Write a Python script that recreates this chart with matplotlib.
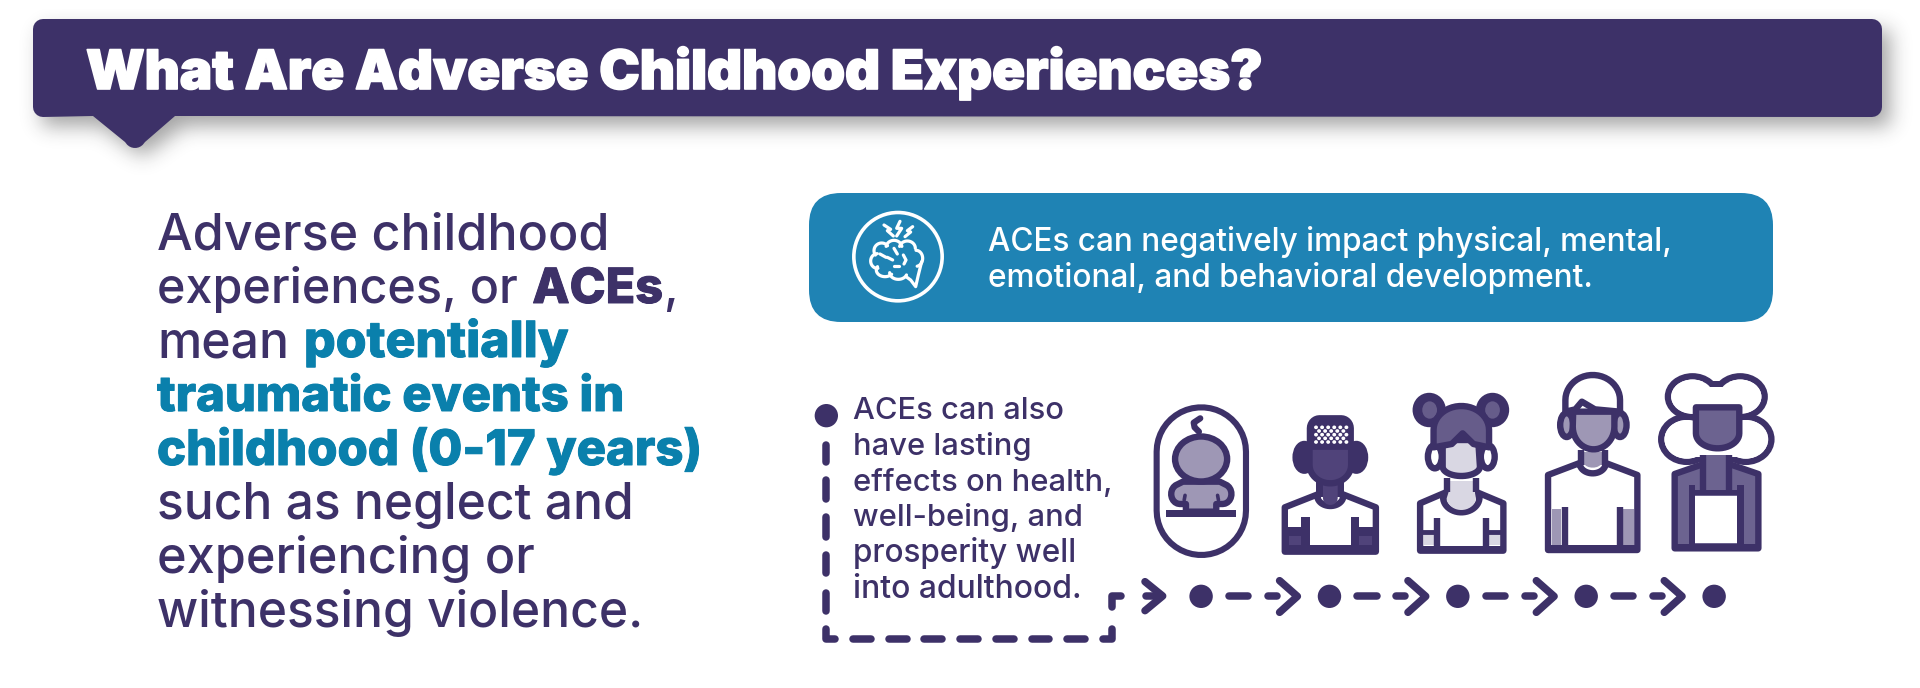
import numpy as np
import matplotlib
matplotlib.use('Agg')
import matplotlib.pyplot as plt
import matplotlib.patheffects as pe
from matplotlib.patches import FancyBboxPatch, Polygon, Ellipse, Rectangle

PURPLE = '#3D3168'
TEAL = '#0A80AC'
BOX_BLUE = '#1F83B4'
MID = '#9E97B5'
DARK_FILL = '#50437A'
SOFT_FILL = '#665C8A'
GREY_FILL = '#6C6390'
PALE = '#D9D7E3'
LW = 4.6
RLW = 5.4

title = 'What Are Adverse Childhood Experiences?'
left_lines = [
    [('Adverse childhood', 'r')],
    [('experiences, or', 'r'), ('ACEs', 'b'), (',', 'r')],
    [('mean', 'r'), ('potentially', 't')],
    [('traumatic events in', 't')],
    [('childhood (0-17 years)', 't')],
    [('such as neglect and', 'r')],
    [('experiencing or', 'r')],
    [('witnessing violence.', 'r')],
]
left_ends = [609, 677, 568, 624, 702, 632, 534, 642]
box_lines = ['ACEs can negatively impact physical, mental,',
             'emotional, and behavioral development.']
box_widths = [683, 605]
side_lines = ['ACEs can also', 'have lasting', 'effects on health,',
              'well-being, and', 'prosperity well', 'into adulthood.']
side_widths = [210, 178, 259, 229, 223, 229]

REG = 'Inter'
PX = 100 / 72
GAP = 0.3

fig = plt.figure(figsize=(19.2, 6.88), dpi=100)
ax = fig.add_axes([0, 0, 1, 1])
ax.set_xlim(0, 1920)
ax.set_ylim(688, 0)
ax.axis('off')
rend = fig.canvas.get_renderer()


def arc(cx, cy, rx, ry, t1, t2, n=24):
    t = np.radians(np.linspace(t1, t2, n))
    return list(zip(cx + rx * np.cos(t), cy - ry * np.sin(t)))


def put(x, base, s, size, color, weight=500, fatten=0):
    t = ax.text(x, base, s, fontsize=size, color=color, fontweight=weight,
                family=REG, va='baseline', ha='left', zorder=4)
    width = t.get_window_extent(rend).width
    if fatten:
        t.set_path_effects([pe.withStroke(linewidth=fatten, foreground=color)])
    return width


def measure(s, weight=500):
    t = ax.text(0, 0, s, fontsize=20, fontweight=weight, family=REG)
    w = t.get_window_extent(rend).width
    t.remove()
    return w


def fit_size(s, width, weight=500):
    return 20 * width / measure(s, weight)


# header band, soft shadow from a blurred mask
yy, xx = np.mgrid[0:240, 0:1920]
mask = ((xx > 33) & (xx < 1882) & (yy > 20) & (yy < 117)).astype(float)
mask[(np.abs(xx - 134) / 41 + (yy - 117) / 30 < 1) & (yy >= 117)] = 1
kernel = np.exp(-0.5 * (np.arange(-30, 31) / 10.0) ** 2)
kernel /= kernel.sum()
blur = np.apply_along_axis(lambda r: np.convolve(r, kernel, mode='same'), 0, mask)
blur = np.apply_along_axis(lambda r: np.convolve(r, kernel, mode='same'), 1, blur)
blur = np.roll(np.roll(blur, 9, axis=0), 8, axis=1)
rgba = np.zeros((240, 1920, 4))
rgba[..., :3] = 0.15
rgba[..., 3] = blur * 0.42
ax.imshow(rgba, extent=(0, 1920, 240, 0), aspect='auto', zorder=1)
ax.set_xlim(0, 1920)
ax.set_ylim(688, 0)

tail = [(93, 116), (125, 142)] + arc(135, 137, 11, 11, 225, 315, 8) + [(145, 142), (175, 116)]
band = [(43, 19), (1872, 19)] + arc(1872, 29, 10, 10, 90, 0, 6) + arc(1872, 107, 10, 10, 0, -90, 6) + \
    tail[::-1] + arc(43, 107, 10, 10, 270, 180, 6) + arc(43, 29, 10, 10, 180, 90, 6)
ax.add_patch(Polygon(band, closed=True, fc=PURPLE, ec='none', zorder=3))
put(86, 89, title, fit_size(title, 1176, 900), 'white', 900, fatten=1.2)

# left paragraph, every line scaled to its measured width
for i, pieces in enumerate(left_lines):
    total = 0
    gaps = 0
    for j, (s, kind) in enumerate(pieces):
        total += measure(s, 500 if kind == 'r' else 800)
        if j + 1 < len(pieces) and pieces[j + 1][0] != ',':
            gaps += 1
    size = 20 * (left_ends[i] - 157) / (total + gaps * 20 * GAP * PX)
    x = 157
    for j, (s, kind) in enumerate(pieces):
        color = TEAL if kind == 't' else PURPLE
        weight = 500 if kind == 'r' else 800
        x += put(x, 249 + i * 54, s, size, color, weight, fatten=0 if kind == 'r' else 0.7)
        if j + 1 < len(pieces) and pieces[j + 1][0] != ',':
            x += size * GAP * PX

# blue box
ax.add_patch(FancyBboxPatch((809 + 32, 193 + 32), 1773 - 809 - 64, 129 - 64,
                            boxstyle='round,pad=32,rounding_size=32', fc=BOX_BLUE, ec='none'))
put(988, 251, box_lines[0], fit_size(box_lines[0], box_widths[0]), 'white')
put(988, 287, box_lines[1], fit_size(box_lines[1], box_widths[1]), 'white')

# brain icon, crop coordinates of the box corner
brain = fig.add_axes([800 / 1920, 1 - 330 / 688, 300 / 1920, 150 / 688])
brain.set_xlim(0, 900)
brain.set_ylim(450, 0)
brain.axis('off')
BLW = 2.3
brain.add_patch(Ellipse((294, 230), 265, 265, fc='none', ec='white', lw=2.6))
bumps = [arc(245, 212, 23, 23, 40, 215), arc(282, 203, 24, 22, 10, 170), arc(322, 205, 24, 22, 0, 165),
         arc(348, 235, 20, 24, -80, 90), arc(232, 243, 20, 22, 90, 275), arc(255, 270, 26, 20, 150, 320),
         arc(295, 278, 26, 20, 180, 340)]
for pts in bumps:
    p = np.array(pts)
    brain.plot(p[:, 0], p[:, 1], color='white', lw=BLW, solid_capstyle='round')
brain.plot([365, 355, 347, 332, 318], [245, 285, 320, 300, 290], color='white', lw=BLW, solid_capstyle='round')
for xs, ys in [([282, 292], [205, 222]), ([262, 278], [232, 240]), ([310, 318, 312], [225, 240, 252]),
               ([282, 296], [258, 258]), ([240, 258], [222, 232])]:
    brain.plot(xs, ys, color='white', lw=BLW, solid_capstyle='round')
for xs, ys in [([252, 272, 262, 280], [135, 148, 152, 168]), ([300, 290, 305, 290], [124, 145, 145, 168]),
               ([338, 322, 332, 315], [140, 152, 156, 170])]:
    brain.plot(xs, ys, color='white', lw=BLW, solid_capstyle='round', solid_joinstyle='round')

# side paragraph and dashed route
for i, s in enumerate(side_lines):
    put(853, 419 + i * 35.8, s, fit_size(s, side_widths[i]), PURPLE)

route = fig.add_axes([780 / 1920, 1 - 670 / 688, 400 / 1920, 310 / 688])
route.set_xlim(0, 1200)
route.set_ylim(930, 0)
route.axis('off')
route.add_patch(Ellipse((139, 167), 70, 70, fc=PURPLE, ec='none'))


def seg(a, xs, ys, lw=RLW):
    a.plot(xs, ys, color=PURPLE, lw=lw, solid_capstyle='round', solid_joinstyle='round')


for y0, y1 in [(255, 305), (360, 418), (472, 530), (585, 640), (698, 752)]:
    seg(route, [139, 139], [y0, y1])
for x0, x1 in [(220, 272), (327, 380), (433, 487), (541, 594), (649, 702), (755, 808), (862, 916)]:
    seg(route, [x0, x1], [836, 836])
seg(route, [138, 138, 166], [808, 836, 836])
seg(route, [970, 997, 997], [836, 836, 808])
seg(route, [996, 996, 1024], [740, 708, 708])
seg(route, [1095, 1148, 1095], [665, 708, 752])
seg(route, [1098, 1130], [708, 708])

# people and timeline, crop coordinates
ic = fig.add_axes([1120 / 1920, 1 - 670 / 688, 680 / 1920, 320 / 688])
ic.set_xlim(0, 1568)
ic.set_ylim(960, 0)
ic.axis('off')


def poly(pts, fc='none', lw=LW, closed=True):
    ic.add_patch(Polygon(pts, closed=closed, fc=fc, ec=PURPLE, lw=lw, joinstyle='round', capstyle='round'))


def ell(cx, cy, w, h, fc='white', lw=LW):
    ic.add_patch(Ellipse((cx, cy), w, h, fc=fc, ec=PURPLE, lw=lw))


def rect(x0, x1, y0, y1, fc=PURPLE):
    ic.add_patch(Rectangle((x0, y0), x1 - x0, y1 - y0, fc=fc, ec='none'))


def line(xs, ys, lw=LW):
    ic.plot(xs, ys, color=PURPLE, lw=lw, solid_capstyle='butt', solid_joinstyle='round')


# timeline
for cx in [187, 483, 779, 1075, 1370]:
    ic.add_patch(Ellipse((cx, 739), 54, 70, fc=PURPLE, ec='none'))
for off in [0, 296, 592, 887]:
    ic.plot(np.array([251, 296]) + off, [739, 739], color=PURPLE, lw=RLW, solid_capstyle='round')
    ic.plot(np.array([341, 362]) + off, [739, 739], color=PURPLE, lw=RLW, solid_capstyle='round')
    ic.plot(np.array([368, 409, 368]) + off, [692, 739, 787], color=PURPLE, lw=RLW,
            solid_capstyle='round', solid_joinstyle='round')

# baby
pill = arc(187.5, 305, 103, 133, 180, 0) + arc(187.5, 482, 103, 133, 0, -180)
poly(pill, fc='white', lw=4.4)
poly([(145, 395)] + arc(138, 432, 20, 30, 120, 270, 10) + [(152, 462), (152, 485), (222, 485), (222, 462)] +
     arc(237, 432, 20, 30, -90, 60, 10) + [(230, 395)], fc=MID)
ic.plot([150, 148], [436, 450], color=PURPLE, lw=2.6, solid_capstyle='round')
ic.plot([225, 227], [436, 450], color=PURPLE, lw=2.6, solid_capstyle='round')
rect(105, 268, 481, 500)
ell(187, 327, 120, 135, fc=MID)
ic.plot([185, 170, 172, 182], [205, 218, 232, 245], color=PURPLE, lw=4.5, solid_capstyle='round')

# boy with cap
poly([(380, 605), (380, 472), (458, 432)] + arc(485, 438, 30, 30, 190, 350) + [(512, 432), (590, 472), (590, 605)],
     fc='white')
rect(453, 517, 395, 440)
ic.add_patch(Polygon([(468, 405), (502, 405), (502, 445)] + arc(485, 445, 17, 20, 0, -180, 10), fc=DARK_FILL, ec='none'))
rect(380, 437, 532, 608)
rect(533, 590, 532, 608)
rect(380, 590, 585, 608)
rect(418, 437, 500, 590)
rect(533, 551, 500, 590)
rect(390, 418, 558, 585, fc=DARK_FILL)
rect(551, 580, 558, 585, fc=DARK_FILL)
ell(425, 322, 40, 80, fc=PURPLE)
ell(545, 322, 40, 80, fc=PURPLE)
poly([(437, 290), (533, 290), (533, 345)] + arc(485, 345, 48, 55, 0, -180) + [(437, 290)], fc=DARK_FILL)
poly(arc(460, 235, 22, 30, 180, 90, 8) + arc(510, 235, 22, 30, 90, 0, 8) + [(532, 284), (438, 284)], fc=PURPLE)
rect(448, 525, 225, 281, fc=PURPLE)
for r, row_y in enumerate(np.arange(232, 282, 11)):
    for cell_x in np.arange(452 + (r % 2) * 7, 524, 14):
        ic.add_patch(Ellipse((cell_x, row_y), 9, 11, fc='white', ec='none'))

# girl with buns
poly([(692, 602), (692, 460), (755, 425)] + arc(787, 442, 42, 45, 185, 355) + [(820, 425), (884, 460), (884, 602)],
     fc='white')
rect(758, 818, 392, 440, fc=PALE)
line([755, 755], [385, 425])
line([820, 820], [385, 425])
ic.add_patch(Polygon([(758, 425)] + arc(787, 442, 34, 38, 185, 355) + [(818, 425)], fc=PALE, ec='none'))
rect(692, 884, 587, 605)
line([732, 732], [505, 590])
line([843, 843], [505, 590])
rect(700, 724, 556, 586, fc=PALE)
rect(852, 876, 556, 586, fc=PALE)
line([692, 732], [546, 546], lw=3.5)
line([843, 884], [546, 546], lw=3.5)
ell(713, 180, 62, 84, fc=PURPLE)
ell(859, 180, 62, 84, fc=PURPLE)
ic.add_patch(Ellipse((714, 180), 34, 52, fc=SOFT_FILL, ec='none'))
ic.add_patch(Ellipse((859, 180), 34, 52, fc=SOFT_FILL, ec='none'))
ell(726, 320, 32, 70, fc='white')
ell(848, 320, 32, 70, fc='white')
poly([(750, 270), (826, 270), (830, 350)] + arc(787, 350, 43, 28, 0, -180) + [(744, 270)], fc=PALE)
poly(arc(787, 240, 64, 72, 180, 0) + [(851, 292), (815, 282), (790, 250), (765, 282), (723, 292)], fc=SOFT_FILL)

# boy with swept hair
poly([(987, 600), (987, 375), (1062, 338)] + arc(1090, 340, 30, 30, 190, 350) + [(1118, 338), (1193, 375), (1193, 600)],
     fc='white')
rect(1062, 1118, 305, 345, fc=MID)
ic.add_patch(Polygon([(1070, 310), (1110, 310), (1110, 338)] + arc(1090, 338, 20, 15, 0, -180, 10), fc=MID, ec='none'))
line([1062, 1062], [300, 345])
line([1118, 1118], [300, 345])
rect(995, 1018, 478, 586, fc=MID)
rect(1160, 1186, 478, 586, fc=MID)
rect(987, 1193, 586, 604)
line([1026, 1026], [472, 590])
line([1153, 1153], [472, 590])
ell(1030, 225, 30, 72, fc=MID)
ell(1153, 225, 30, 72, fc=MID)
poly([(1045, 185), (1140, 185), (1140, 230)] + arc(1092, 230, 48, 68, 0, -180), fc=MID)
poly(arc(1090, 150, 63, 75, 180, 0) + [(1153, 185), (1095, 178), (1065, 155), (1050, 178), (1027, 185)], fc='white')

# woman with curly hair
lobes = [(1320, 140, 113, 122), (1430, 140, 113, 122), (1307, 268, 118, 135), (1443, 268, 118, 135)]
for cx, cy, w, h in lobes:
    ell(cx, cy, w, h, fc='white')
rect(1345, 1405, 93, 110)
rect(1325, 1425, 110, 320, fc='white')
for cx, cy, w, h in lobes:
    ic.add_patch(Ellipse((cx, cy), w - 15, h - 19, fc='white', ec='none'))
poly([(1279, 595), (1279, 372), (1350, 340), (1400, 340), (1472, 372), (1472, 595)], fc=GREY_FILL)
rect(1279, 1472, 582, 602)
rect(1345, 1405, 315, 420, fc=GREY_FILL)
line([1345, 1345], [315, 420])
line([1405, 1405], [315, 420])
rect(1312, 1438, 420, 436)
rect(1311, 1327, 405, 590)
rect(1423, 1439, 405, 590)
rect(1327, 1423, 437, 580, fc='white')
poly([(1328, 172), (1428, 172), (1428, 250)] + arc(1378, 250, 50, 45, 0, -180), fc=GREY_FILL)

fig.savefig('out.png', dpi=100)
